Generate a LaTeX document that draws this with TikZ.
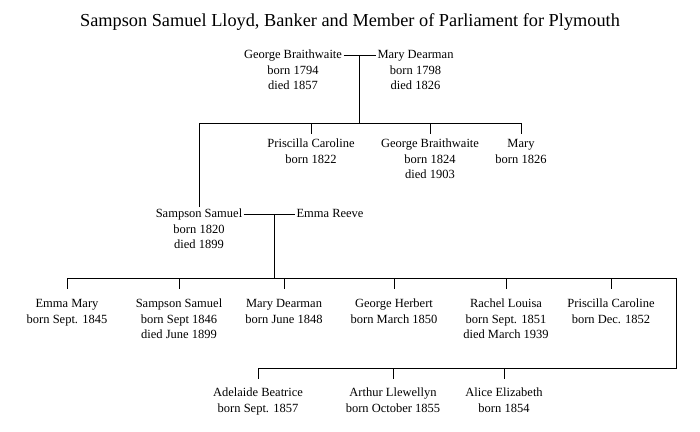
\documentclass[tikz,border=0pt]{standalone}
\usepackage{fontspec}
\setmainfont{Liberation Serif}
\usetikzlibrary{positioning}
\newcommand{\fs}{\fontsize{12.5}{15}\selectfont}

\begin{document}
\begin{tikzpicture}[x=1pt,y=-1pt,line width=1pt,
    who/.style={font=\fs,inner sep=1pt,text height=8.5pt,text depth=2.5pt},
    dates/.style={font=\fs,align=center,inner xsep=1pt,inner ysep=0pt,below=3pt of #1},
    drop/.style={shorten >=#1}]
  \useasboundingbox (0,0) rectangle (700,431);

  \node[font=\fontsize{18.3}{22}\selectfont,anchor=base] (Title) at (350,26)
    {Sampson Samuel Lloyd, Banker and Member of Parliament for Plymouth};

  \node[who]             (George)  at (293,55)  {George Braithwaite};
  \node[who,anchor=west] (MaryD)   at (376,55)  {Mary Dearman};
  \node[dates=George] {born 1794\\died 1857};
  \node[dates=MaryD]  {born 1798\\died 1826};

  \node[who] (Sampson)   at (199,214) {Sampson Samuel};
  \node[who] (Priscilla) at (311,144) {Priscilla Caroline};
  \node[who] (GeorgeB)   at (430,144) {George Braithwaite};
  \node[who] (Mary)      at (521,144) {Mary};
  \node[who,anchor=west] (Emma) at (295,214) {Emma Reeve};
  \node[dates=Sampson]   {born 1820\\died 1899};
  \node[dates=Priscilla] {born 1822};
  \node[dates=GeorgeB]   {born 1824\\died 1903};
  \node[dates=Mary]      {born 1826};

  \node[who] (EmmaM)      at (67,304)  {Emma Mary};
  \node[who] (SampsonS)   at (179,304) {Sampson Samuel};
  \node[who] (MaryDe)     at (284,304) {Mary Dearman};
  \node[who] (GeorgeH)    at (394,304) {George Herbert};
  \node[who] (Rachel)     at (506,304) {Rachel Louisa};
  \node[who] (PriscillaC) at (611,304) {Priscilla Caroline};
  \node[dates=EmmaM]      {born Sept. 1845};
  \node[dates=SampsonS]   {born Sept 1846\\died June 1899};
  \node[dates=MaryDe]     {born June 1848};
  \node[dates=GeorgeH]    {born March 1850};
  \node[dates=Rachel]     {born Sept. 1851\\died March 1939};
  \node[dates=PriscillaC] {born Dec. 1852};

  \node[who] (Adelaide) at (258,393) {Adelaide Beatrice};
  \node[who] (Arthur)   at (393,393) {Arthur Llewellyn};
  \node[who] (Alice)    at (504,393) {Alice Elizabeth};
  \node[dates=Adelaide] {born Sept. 1857};
  \node[dates=Arthur]   {born October 1855};
  \node[dates=Alice]    {born 1854};

  \coordinate (Wed1)  at (359,55);
  \coordinate (Kids1) at (359,123);
  \coordinate (Wed2)  at (274,214);
  \coordinate (Kids2) at (274,278);
  \coordinate (Turn)  at (676,278);
  \coordinate (Kids3) at (676,368);

  \draw (George) -- (MaryD);
  \draw (Wed1) -- (Kids1);
  \draw (Sampson.north) -- (Sampson.north |- Kids1) -- (Mary.north |- Kids1);
  \foreach \k in {Priscilla,GeorgeB,Mary}
    \draw[drop=3pt] (\k.north |- Kids1) -- (\k.north);

  \draw (Sampson) -- (Emma);
  \draw (Wed2) -- (Kids2);
  \draw (EmmaM.north |- Kids2) -- (Turn) -- (Kids3) -- (Adelaide.north |- Kids3);
  \foreach \k in {EmmaM,SampsonS,MaryDe,GeorgeH,Rachel,PriscillaC}
    \draw[drop=8pt] (\k.north |- Kids2) -- (\k.north);
  \foreach \k in {Adelaide,Arthur,Alice}
    \draw[drop=7pt] (\k.north |- Kids3) -- (\k.north);
\end{tikzpicture}
\end{document}
